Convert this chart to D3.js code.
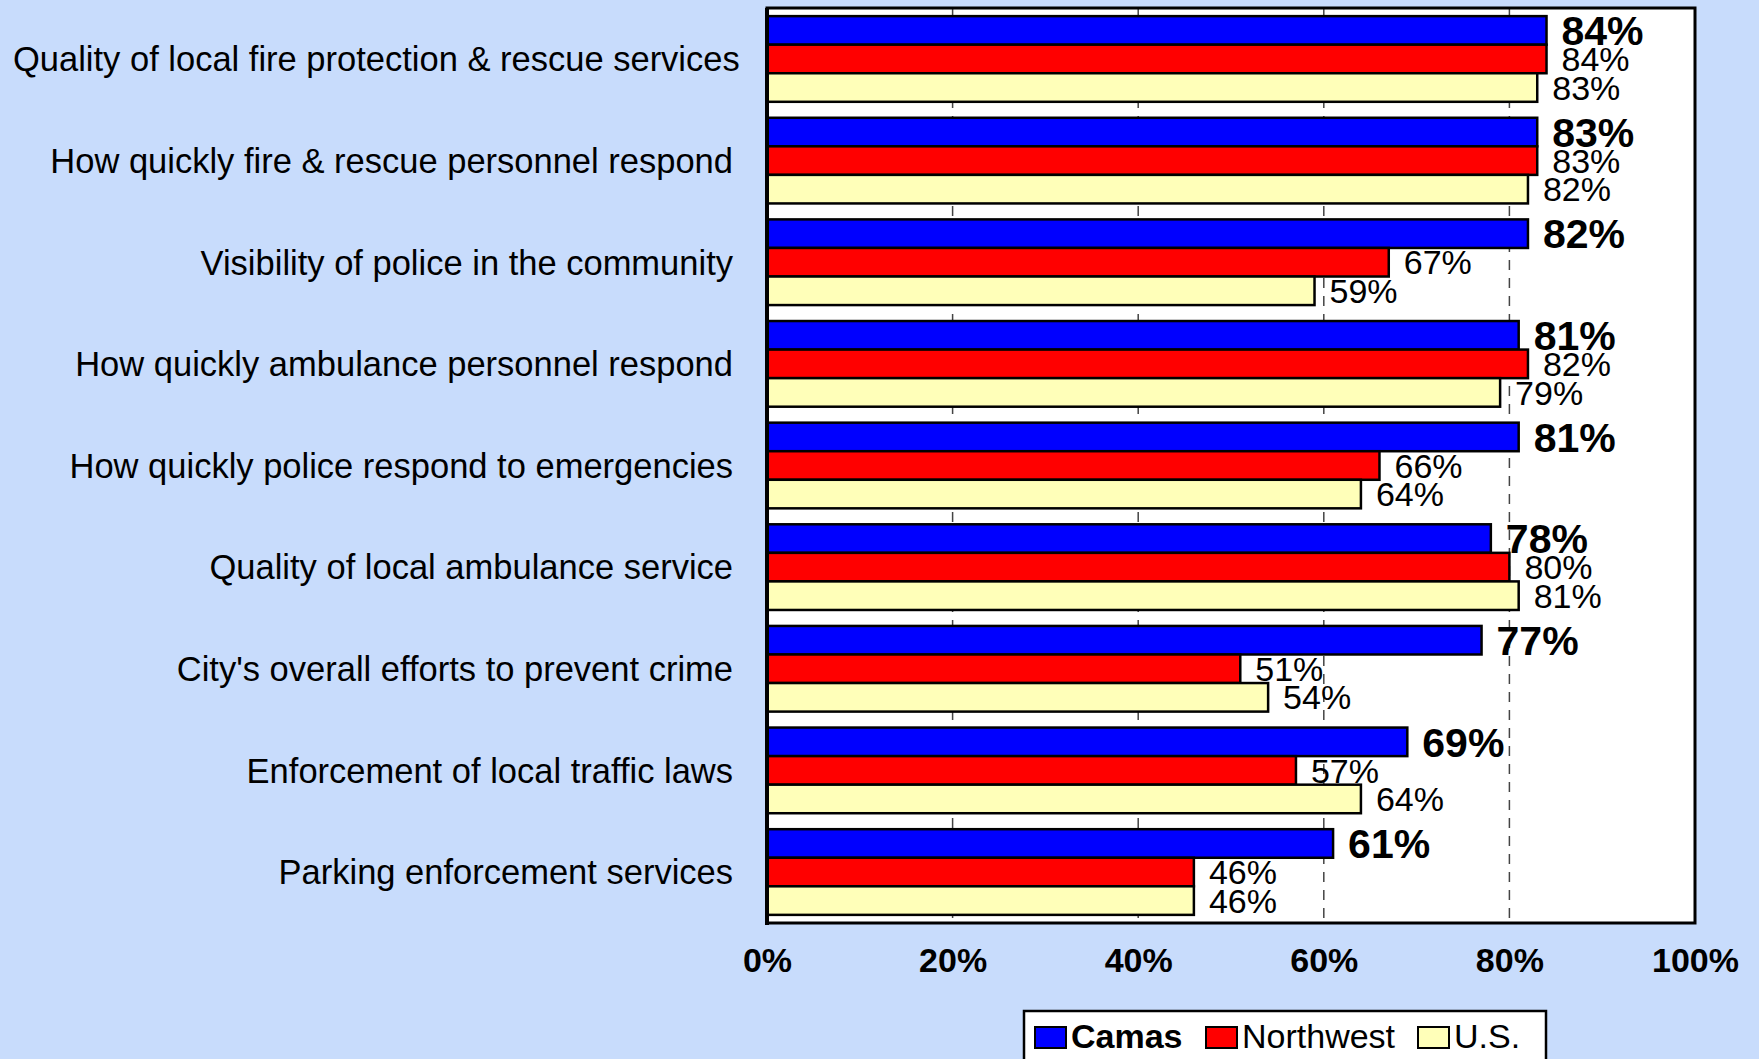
<!DOCTYPE html>
<html><head><meta charset="utf-8">
<script src="https://cdn.jsdelivr.net/npm/d3@7"></script>
<style>
html,body{margin:0;padding:0;background:#C8DCFC;}
svg{display:block;font-family:"Liberation Sans",Arial,sans-serif;}
</style></head>
<body>
<svg id="chart" width="1759" height="1059"></svg>
<script>
const categories = [
  "Quality of local fire protection & rescue services",
  "How quickly fire & rescue personnel respond",
  "Visibility of police in the community",
  "How quickly ambulance personnel respond",
  "How quickly police respond to emergencies",
  "Quality of local ambulance service",
  "City's overall efforts to prevent crime",
  "Enforcement of local traffic laws",
  "Parking enforcement services"
];
const seriesNames = ["Camas", "Northwest", "U.S."];
const camas     = [84, 83, 82, 81, 81, 78, 77, 69, 61];
const northwest = [84, 83, 67, 82, 66, 80, 51, 57, 46];
const us        = [83, 82, 59, 79, 64, 81, 54, 64, 46];
const tickValues = [0, 20, 40, 60, 80, 100];
const colors = ["#0000FF", "#FF0000", "#FFFFB9"];

const values = [camas, northwest, us];
const svg = d3.select("#chart");
const L = 767, R = 1695, T = 8, B = 923;

const x = d3.scaleLinear().domain([0, 100]).range([L, R]);
const y0 = d3.scaleBand().domain(categories).range([T, B]).paddingInner(0.157).paddingOuter(0.08);
const y1 = d3.scaleBand().domain(seriesNames).range([0, y0.bandwidth()]);

// plot background
svg.append("rect").attr("x", L).attr("y", T).attr("width", R - L).attr("height", B - T)
  .attr("fill", "#fff");

// dashed gridlines
svg.append("g").selectAll("line").data(tickValues.filter(d => d > 0 && d < 100)).join("line")
  .attr("x1", d => x(d)).attr("x2", d => x(d)).attr("y1", T).attr("y2", B)
  .attr("stroke", "#444").attr("stroke-width", 1.5).attr("stroke-dasharray", "10,8");

// bars
const groups = svg.append("g").selectAll("g").data(categories).join("g")
  .attr("transform", d => `translate(0,${y0(d)})`);

groups.each(function(cat, i) {
  const g = d3.select(this);
  seriesNames.forEach((s, j) => {
    const v = values[j][i];
    g.append("rect")
      .attr("x", x(0)).attr("y", y1(s))
      .attr("width", x(v) - x(0)).attr("height", y1.bandwidth())
      .attr("fill", colors[j]).attr("stroke", "#000").attr("stroke-width", 2.5);
    const fs = j === 0 ? 41 : 34;
    g.append("text")
      .attr("x", x(v) + 15)
      .attr("y", y1(s) + y1.bandwidth() / 2 + fs * 0.358)
      .attr("font-size", fs)
      .attr("font-weight", j === 0 ? "bold" : "normal")
      .attr("fill", "#000")
      .text(v + "%");
  });
});

// plot border
svg.append("rect").attr("x", L).attr("y", T).attr("width", R - L).attr("height", B - T)
  .attr("fill", "none").attr("stroke", "#000").attr("stroke-width", 3);
svg.append("line").attr("x1", L).attr("x2", L).attr("y1", T).attr("y2", B + 2)
  .attr("stroke", "#000").attr("stroke-width", 4);

// x axis tick labels
const xAxis = d3.axisBottom(x).tickValues(tickValues).tickFormat(d => d + "%").tickSize(0).tickPadding(0);
const ax = svg.append("g").attr("transform", `translate(0,${B})`).call(xAxis);
ax.select(".domain").remove();
ax.selectAll("text")
  .attr("font-family", "Liberation Sans, Arial, sans-serif")
  .attr("font-size", 34).attr("font-weight", "bold").attr("fill", "#000")
  .attr("dy", null).attr("y", 49);

// category labels
const labels = svg.append("g").selectAll("text").data(categories).join("text")
  .attr("x", 733)
  .attr("y", d => y0(d) + y0.bandwidth() / 2 + 34.5 * 0.358)
  .attr("text-anchor", "end")
  .attr("font-size", 34.5)
  .attr("fill", "#000")
  .text(d => d);
labels.each(function() {
  const bb = this.getBBox();
  if (bb.x < 13) d3.select(this).attr("x", 733 + (13 - bb.x));
});

// legend
const lg = svg.append("g");
lg.append("rect").attr("x", 1024).attr("y", 1011).attr("width", 522).attr("height", 60)
  .attr("fill", "#fff").attr("stroke", "#000").attr("stroke-width", 2.5);
const legendX = [1035, 1206, 1418];
seriesNames.forEach((s, j) => {
  lg.append("rect").attr("x", legendX[j]).attr("y", 1027).attr("width", 31).attr("height", 21)
    .attr("fill", colors[j]).attr("stroke", "#000").attr("stroke-width", 2);
  lg.append("text").attr("x", legendX[j] + 36).attr("y", 1048)
    .attr("font-size", 34).attr("font-weight", j === 0 ? "bold" : "normal")
    .attr("fill", "#000").text(s);
});
</script>
</body></html>
